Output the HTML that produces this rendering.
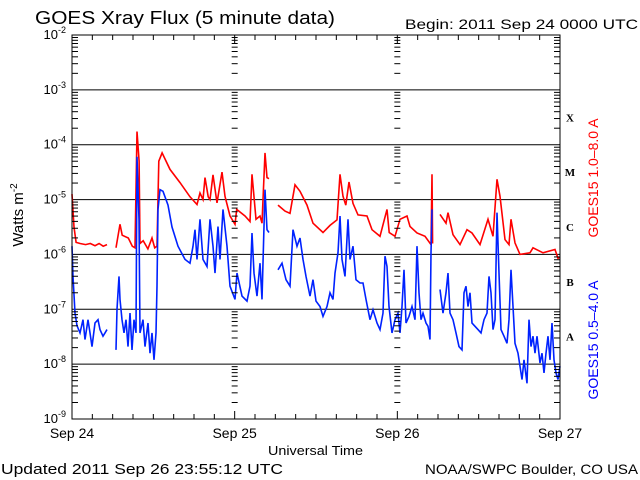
<!DOCTYPE html>
<html><head><meta charset="utf-8"><style>
html,body{margin:0;padding:0;background:#fff;}
svg{display:block;font-family:"Liberation Sans",sans-serif;}
</style></head><body>
<svg id="chart" width="640" height="480" viewBox="0 0 640 480" xmlns="http://www.w3.org/2000/svg">
<rect x="0" y="0" width="640" height="480" fill="#fff"/>
<text x="35" y="24" font-size="18" textLength="300" lengthAdjust="spacingAndGlyphs">GOES Xray Flux (5 minute data)</text>
<text x="405" y="29" font-size="14" textLength="233" lengthAdjust="spacingAndGlyphs">Begin:  2011 Sep 24 0000 UTC</text>
<text x="268" y="455" font-size="13" textLength="95" lengthAdjust="spacingAndGlyphs">Universal Time</text>
<text x="1" y="474" font-size="15" textLength="282" lengthAdjust="spacingAndGlyphs">Updated 2011 Sep 26 23:55:12 UTC</text>
<text x="425" y="474" font-size="14" textLength="213" lengthAdjust="spacingAndGlyphs">NOAA/SWPC Boulder, CO USA</text>
<text transform="translate(23,215) rotate(-90)" font-size="15" text-anchor="middle">Watts m<tspan dy="-6" font-size="10">-2</tspan></text>
<text transform="translate(598,178) rotate(-90)" font-size="14" fill="#ff0000" text-anchor="middle">GOES15 1.0–8.0 A</text>
<text transform="translate(598,340) rotate(-90)" font-size="14" fill="#0000ff" text-anchor="middle">GOES15 0.5–4.0 A</text>
<g id="grid"></g>
<g id="series"></g>
<g id="axes"></g>
</svg>
<script>
const dayLabels = ["Sep 24","Sep 25","Sep 26","Sep 27"];
const decadeExps = [-2,-3,-4,-5,-6,-7,-8,-9];
const classLabels = ["X","M","C","B","A"];
const classExps = [-3,-4,-5,-6,-7];
const redHours = [0,0.3,0.6,1.2,2,2.7,3.4,4,4.6,5.16,null,6.49,7.08,7.4,8.3,8.9,9.3,9.59,9.9,10.03,10.5,11.2,11.8,12.2,12.54,12.8,13.3,14.46,15.93,17.41,18.44,18.89,19.33,19.62,20.1,20.36,20.8,21.39,22.13,22.57,23.31,24.05,24.3,25.52,26.26,26.56,27.15,27.74,28.03,28.48,28.77,29.07,null,30.39,31.43,32.16,32.9,33.64,34.67,35.56,37.03,38.07,39.1,39.54,39.98,40.4,40.87,41.46,42.2,43.52,44.26,45.44,46.48,46.8,47.66,48.39,49.43,49.87,50.9,52.08,52.97,53.11,53.2,null,54.3,55.18,55.48,56.21,57.25,58.28,59.02,60.2,61.38,62.11,62.7,63.15,63.89,64.48,64.77,65.36,66.1,67.57,68.02,69.49,71.26,71.7,72];
const redLog = [-4.9,-5.5,-5.78,-5.8,-5.82,-5.8,-5.84,-5.8,-5.85,-5.82,null,-5.88,-5.45,-5.65,-5.7,-5.85,-5.88,-3.76,-4.3,-5.8,-5.75,-5.9,-5.7,-5.88,-5.85,-4.3,-4.15,-4.45,-4.69,-4.95,-5.09,-4.88,-5.0,-4.6,-4.95,-5.0,-4.55,-5.06,-4.5,-4.94,-5.3,-5.45,-5.18,-5.3,-5.4,-4.54,-5.36,-5.3,-5.43,-4.15,-4.6,-4.62,null,-5.1,-5.21,-5.25,-4.73,-4.85,-5.1,-5.43,-5.6,-5.47,-5.37,-4.54,-4.94,-5.1,-4.68,-5.07,-5.28,-5.3,-5.55,-5.67,-5.18,-5.6,-5.67,-5.36,-5.3,-5.49,-5.61,-5.67,-5.82,-4.54,-5.8,null,-5.27,-5.43,-5.24,-5.64,-5.82,-5.55,-5.61,-5.82,-5.36,-5.67,-4.63,-4.94,-5.73,-5.82,-5.36,-5.79,-6.0,-5.97,-5.88,-5.97,-5.91,-6.07,-6.05];
const blueHours = [0,0.15,0.44,0.74,1.18,1.62,1.92,2.36,2.66,2.95,3.39,3.84,4.13,4.57,4.87,5.16,null,6.49,6.64,6.93,7.08,7.38,7.67,7.97,8.26,8.56,8.85,9.15,9.44,9.59,9.89,10.03,10.48,10.77,11.21,11.51,11.8,12.1,12.39,12.54,12.69,12.98,13.43,14.16,14.75,15.64,16.67,17.41,17.85,18.15,18.44,18.89,19.33,19.92,20.36,20.8,21.1,21.54,21.84,22.28,22.87,23.31,24.05,24.34,25.08,25.82,26.26,26.56,26.85,27.3,27.74,28.03,28.48,28.77,29.07,null,30.39,30.98,31.57,32.16,32.61,33.2,33.64,34.08,34.52,35.11,35.56,36.0,36.59,37.03,37.62,38.07,38.51,38.8,39.25,39.54,39.84,40.28,40.72,41.02,41.46,41.9,42.49,42.93,43.38,43.97,44.41,45.0,45.44,45.89,46.18,46.48,46.77,47.21,47.66,48.1,48.39,48.69,48.98,49.28,49.72,50.16,50.61,50.9,51.2,51.49,51.79,52.23,52.52,52.82,52.97,53.11,null,54.3,54.74,55.18,55.48,55.77,56.21,56.66,57.1,57.54,57.84,58.13,58.43,58.72,59.02,59.46,59.9,60.34,60.79,61.23,61.52,61.82,62.11,62.41,62.7,63.0,63.3,63.74,64.18,64.48,64.77,65.07,65.36,65.8,66.1,66.39,66.69,67.13,67.43,67.72,68.02,68.31,68.61,69.05,69.34,69.64,69.93,70.23,70.52,70.82,71.11,71.41,71.7,72];
const blueLog = [-5.85,-6.4,-7.07,-7.3,-7.43,-7.19,-7.55,-7.19,-7.43,-7.68,-7.25,-7.19,-7.37,-7.49,-7.43,-7.37,null,-7.74,-7.0,-6.4,-6.82,-7.19,-7.43,-7.19,-7.68,-7.07,-7.74,-7.19,-7.43,-4.22,-5.36,-7.43,-7.19,-7.68,-7.25,-7.8,-7.43,-7.92,-7.43,-6.58,-5.18,-4.82,-4.85,-5.1,-5.5,-5.85,-6.09,-6.16,-5.85,-5.55,-6.09,-5.36,-6.09,-6.22,-5.36,-5.85,-6.34,-5.49,-6.09,-5.18,-5.85,-6.58,-6.82,-6.34,-6.76,-6.85,-6.58,-5.61,-6.34,-6.76,-6.16,-6.82,-4.82,-5.55,-5.6,null,-6.28,-6.16,-6.46,-6.58,-5.55,-5.85,-5.7,-6.09,-6.4,-6.76,-6.46,-6.85,-6.95,-7.13,-6.95,-6.7,-6.82,-6.34,-5.97,-5.3,-6.09,-6.4,-5.36,-6.09,-5.85,-6.46,-6.52,-6.52,-6.82,-7.19,-7.01,-7.25,-7.37,-7.07,-6.03,-6.22,-6.95,-7.43,-7.19,-7.07,-7.43,-6.95,-6.28,-7.25,-7.13,-6.95,-7.19,-5.85,-6.7,-7.19,-7.07,-7.25,-7.31,-7.55,-5.97,-5.18,null,-6.64,-7.07,-6.7,-6.34,-7.07,-7.19,-7.43,-7.68,-7.74,-6.7,-6.58,-6.95,-6.7,-7.25,-7.31,-7.37,-7.43,-7.19,-7.07,-6.4,-6.7,-7.37,-7.19,-5.24,-6.34,-7.37,-7.49,-7.62,-7.19,-6.28,-6.95,-7.62,-7.8,-8.04,-8.28,-7.92,-8.35,-7.19,-7.68,-7.49,-7.8,-7.49,-7.98,-7.8,-8.16,-7.8,-7.49,-7.92,-7.25,-7.92,-8.16,-8.28,-8.04];

const X0=72, X1=560, YT=35, YB=419, HOURS=72;
const xs = h => X0 + (X1-X0)*h/HOURS;
const ys = e => YB - (YB-YT)*(e+9)/7;
const NS="http://www.w3.org/2000/svg";
const grid=document.getElementById('grid'), axes=document.getElementById('axes'), series=document.getElementById('series');
function mk(tag, attrs, parent){const el=document.createElementNS(NS,tag);for(const k in attrs)el.setAttribute(k,attrs[k]);parent.appendChild(el);return el;}

decadeExps.forEach(e=>{
  if(e>-9 && e<-2){
    const l=mk('line',{x1:X0,x2:X1,y1:ys(e),y2:ys(e),stroke:'#000','stroke-width':1},grid);
    
    
  }
  const t=mk('text',{x:X0-6,y:ys(e)+4,'font-size':13,'text-anchor':'end'},axes);
  
  
  t.innerHTML='10<tspan dy="-6" font-size="9">'+e+'</tspan>';
});
const dayXs=[0,24,48,72].map(xs);
for(let e=-9;e<-2;e++){
  for(let m=2;m<=9;m++){
    const y=ys(e+Math.log10(m));
    mk('line',{x1:X0,x2:X0+6,y1:y,y2:y,stroke:'#000'},axes);
    mk('line',{x1:X1-6,x2:X1,y1:y,y2:y,stroke:'#000'},axes);
    mk('line',{x1:dayXs[1]-3,x2:dayXs[1]+3,y1:y,y2:y,stroke:'#000'},axes);
    mk('line',{x1:dayXs[2]-3,x2:dayXs[2]+3,y1:y,y2:y,stroke:'#000'},axes);
  }
}
for(let h=3;h<72;h+=3){
  const len = (h%24===0)?8:5;
  mk('line',{x1:xs(h),x2:xs(h),y1:YB,y2:YB-len,stroke:'#000'},axes);
  mk('line',{x1:xs(h),x2:xs(h),y1:YT,y2:YT+len,stroke:'#000'},axes);
}
dayLabels.forEach((d,i)=>{
  const t=mk('text',{x:xs(i*24),y:438,'font-size':14,'text-anchor':'middle'},axes);
  
  
  t.textContent=d;
});
classLabels.forEach((c,i)=>{
  const t=mk('text',{x:570,y:ys(classExps[i]-0.5)+4,'font-size':11,'font-weight':'bold','font-family':'Liberation Serif, serif','text-anchor':'middle'},axes);
  
  
  t.textContent=c;
});
const frame=mk('rect',{x:X0,y:YT,width:X1-X0,height:YB-YT,fill:'none',stroke:'#000','stroke-width':1},axes);



function drawSeries(hours, vals, color, name){
  let d='', pen=false;
  for(let i=0;i<hours.length;i++){
    if(hours[i]===null||vals[i]===null){pen=false;continue;}
    d+=(pen?'L':'M')+xs(hours[i]).toFixed(1)+' '+ys(vals[i]).toFixed(1);
    pen=true;
  }
  const p=mk('path',{d:d,fill:'none',stroke:color,'stroke-width':1.6,'stroke-linejoin':'miter'},series);
  
  
}
drawSeries(redHours, redLog, '#ff0000', 'series-long-1-8A');
drawSeries(blueHours, blueLog, '#0022ff', 'series-short-0.5-4A');
</script>
</body></html>
